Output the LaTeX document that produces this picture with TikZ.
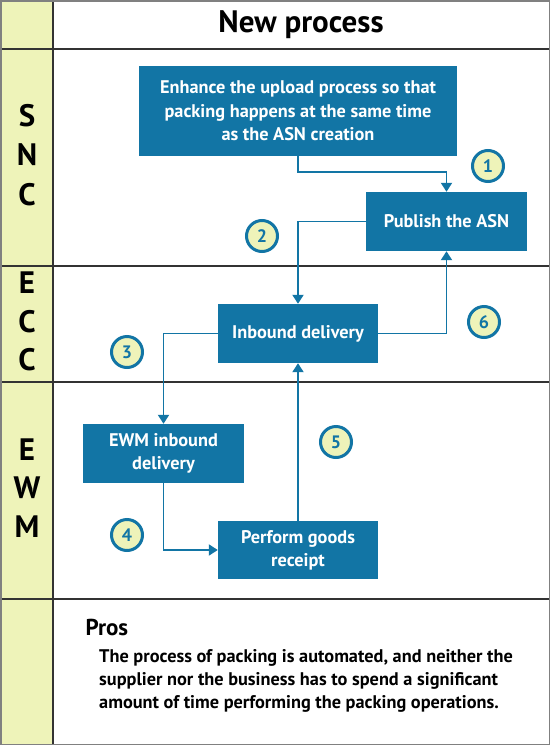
\documentclass[tikz,border=0pt]{standalone}
\usepackage{fontspec}
\setmainfont{PT Sans}
\usetikzlibrary{arrows.meta}
\definecolor{boxblue}{HTML}{1275A5}
\definecolor{lane}{HTML}{EEF3B9}
\definecolor{gridc}{HTML}{333333}
\tikzset{
  procbox/.style={fill=boxblue, text=white, font=\bfseries\fontsize{18.3}{23.3}\selectfont, align=center, inner sep=0pt},
  flow/.style={draw=boxblue, line width=1.9pt, -{Triangle[width=11pt,length=9pt]}},
  numc/.style={circle, draw=boxblue, line width=3pt, fill=lane, minimum size=31pt, inner sep=0pt, text=boxblue, font=\bfseries\fontsize{18}{18}\selectfont},
  lanelet/.style={font=\bfseries\fontsize{31}{31}\selectfont},
  gridl/.style={draw=gridc, line width=1.5pt}
}
\begin{document}
\begin{tikzpicture}[x=1pt,y=-1pt]
\useasboundingbox (0,0) rectangle (550,745);
% lane column
\fill[lane] (0,0) rectangle (53,745);
% grid
\draw[gridl] (53,0) -- (53,745);
\draw[gridl] (0,49) -- (550,49);
\draw[gridl] (0,266) -- (550,266);
\draw[gridl] (0,382) -- (550,382);
\draw[gridl] (0,599) -- (550,599);
\draw[draw=gray, line width=1.5pt] (0.75,0.75) rectangle (549.25,744.25);
% header
\node[font=\bfseries\fontsize{31}{31}\selectfont] (title) at (301,25) {New process};
% lane letters
\node[lanelet] (s1) at (27,116) {S};
\node[lanelet] (s2) at (27,155) {N};
\node[lanelet] (s3) at (27,195) {C};
\node[lanelet] (e1) at (27,283) {E};
\node[lanelet] (e2) at (27,322) {C};
\node[lanelet] (e3) at (27,360) {C};
\node[lanelet] (w1) at (27,450) {E};
\node[lanelet] (w2) at (27,488) {W};
\node[lanelet] (w3) at (27,527) {M};
% boxes
\node[procbox, minimum width=318pt, minimum height=90pt] (enh) at (298,111) {Enhance the upload process so that\\packing happens at the same time\\as the ASN creation};
\node[procbox, minimum width=161pt, minimum height=59pt] (pub) at (446.5,221.5) {Publish the ASN};
\node[procbox, minimum width=160pt, minimum height=59pt] (inb) at (298,333.5) {Inbound delivery};
\node[procbox, minimum width=161pt, minimum height=59pt] (ewm) at (163.5,453.5) {EWM inbound\\delivery};
\node[procbox, minimum width=160pt, minimum height=58pt] (prf) at (298,550) {Perform goods\\receipt};
% connectors
\draw[flow] (enh.south) -- (enh.south |- 0,172) -| (pub.north);
\draw[flow] (pub.west) -| (inb.north);
\draw[flow] (inb.west) -| (ewm.north);
\draw[flow] (ewm.south) |- (prf.west);
\draw[flow] (prf.north) -- (inb.south);
\draw[flow] (inb.east) -| (pub.south);
% numbers
\node[numc] (n1) at (488,166) {1};
\node[numc] (n2) at (262,236) {2};
\node[numc] (n3) at (127,352) {3};
\node[numc] (n4) at (127,535) {4};
\node[numc] (n5) at (336,442) {5};
\node[numc] (n6) at (484,322) {6};
% pros
\node[anchor=west, font=\bfseries\fontsize{23}{23}\selectfont] (pros) at (82,627) {Pros};
\node[anchor=north west, align=left, inner sep=0pt, font=\bfseries\fontsize{18.3}{23.3}\selectfont] (prostext) at (99,649) {The process of packing is automated, and neither the\\supplier nor the business has to spend a significant\\amount of time performing the packing operations.};
\end{tikzpicture}
\end{document}
